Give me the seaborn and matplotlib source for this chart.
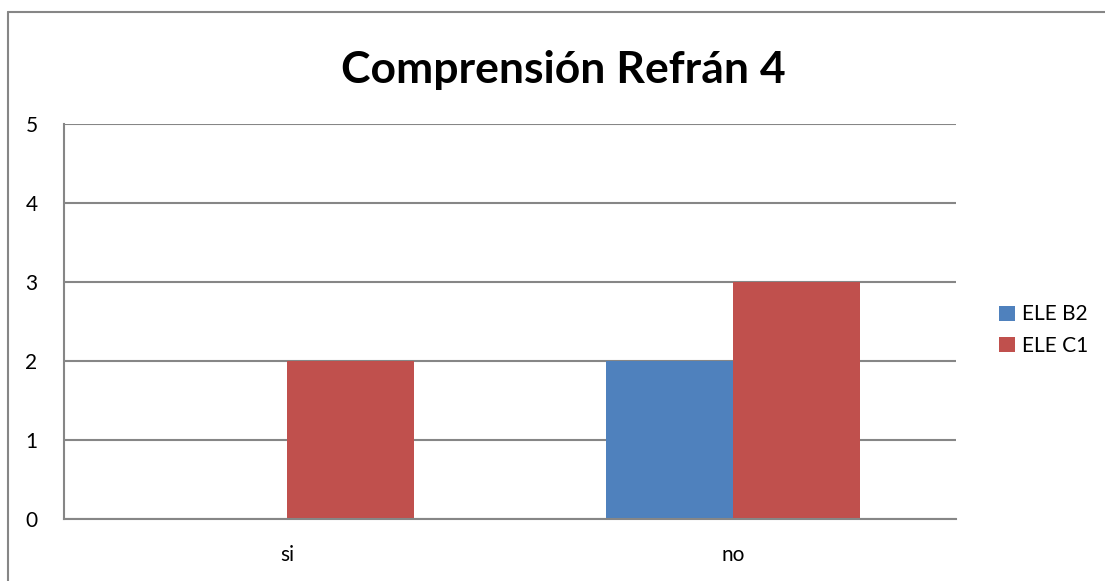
import matplotlib
matplotlib.use("Agg")
import matplotlib.pyplot as plt
import seaborn as sns
import pandas as pd
from matplotlib.lines import Line2D

categories = ["si", "no"]
series_names = ["ELE B2", "ELE C1"]
ele_b2 = [0, 2]
ele_c1 = [2, 3]
title = "Comprensión Refrán 4"

df = pd.DataFrame({
    "categoria": categories * 2,
    "serie": [series_names[0]] * len(categories) + [series_names[1]] * len(categories),
    "valor": ele_b2 + ele_c1,
})

sns.set_theme(style="white")
plt.rcParams["font.family"] = ["Lato", "DejaVu Sans"]
plt.rcParams["text.color"] = "black"

grid_color = "#868686"
palette = {"ELE B2": "#4F81BD", "ELE C1": "#C0504D"}

fig = plt.figure(figsize=(11.05, 5.81), dpi=100)
ax = fig.add_axes([64 / 1105, 62 / 581, (956 - 64) / 1105, (519 - 124) / 581])

sns.barplot(data=df, x="categoria", y="valor", hue="serie", order=categories,
            hue_order=series_names, palette=palette, width=0.57, saturation=1,
            linewidth=0, ax=ax)

ax.set_xlim(-0.5, 1.5)
ax.set_ylim(0, 5)
ax.set_yticks(range(0, 6))
ax.yaxis.grid(True, color=grid_color, linewidth=1.5)
ax.set_axisbelow(True)
for side in ["top", "right"]:
    ax.spines[side].set_visible(False)
for side in ["left", "bottom"]:
    ax.spines[side].set_color(grid_color)
    ax.spines[side].set_linewidth(1.5)
ax.set_xlabel("")
ax.set_ylabel("")
ax.tick_params(axis="y", length=0, pad=19, labelsize=15, colors="black")
ax.tick_params(axis="x", length=0, pad=19, labelsize=15, colors="black")

handles, labels = ax.get_legend_handles_labels()
leg = ax.legend(handles, labels, loc="center left", bbox_to_anchor=(1.039, 0.478),
                bbox_transform=ax.transAxes, borderaxespad=0,
                frameon=False, fontsize=15, handlelength=0.75, handleheight=0.75,
                handletextpad=0.35, labelspacing=0.55)
for t in leg.get_texts():
    t.set_color("black")

fig.text(563 / 1105, 1 - 70 / 581, title, ha="center", va="center",
         fontsize=32, fontweight="bold", color="black")

# outer chart border
fig.add_artist(Line2D([8 / 1105, 8 / 1105], [0, 1 - 12 / 581],
                      transform=fig.transFigure, color=grid_color, linewidth=1.5))
fig.add_artist(Line2D([8 / 1105, 1], [1 - 12 / 581, 1 - 12 / 581],
                      transform=fig.transFigure, color=grid_color, linewidth=1.5))

fig.savefig("out.png", dpi=100)
